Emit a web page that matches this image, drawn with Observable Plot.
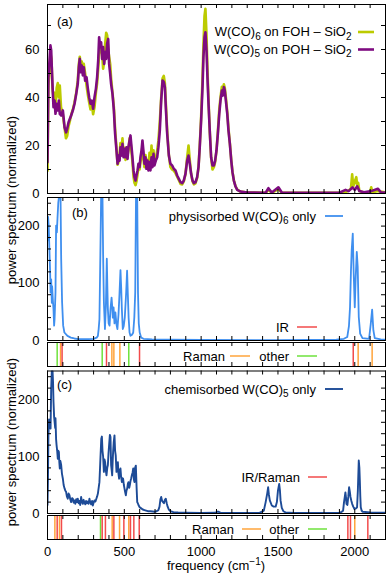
<!DOCTYPE html>
<html><head><meta charset="utf-8">
<script src="https://cdn.jsdelivr.net/npm/d3@7"></script>
<script src="https://cdn.jsdelivr.net/npm/@observablehq/plot@0.6"></script>
<style>
body{margin:0;background:#fff;}
#wrap{position:relative;width:390px;height:574px;font-family:"Liberation Sans",Arial,sans-serif;}
#wrap svg{position:absolute;left:0;top:0;}
#wrap svg text{font-family:"Liberation Sans",Arial,sans-serif;font-size:13px;fill:#000;}
</style></head><body><div id="wrap"></div>
<script>
// ---------- data (frequency cm^-1, normalized power) ----------
const pohSpectrum = [[0,13],[6,48.5],[13,55.4],[19,61.7],[24,59.6],[28,52.6],[35,41.5],[39,36],[46,38.7],[52,33.2],[59,37.4],[67,34.6],[74,38.7],[80,33.2],[89,32.5],[100,34.6],[111,27.6],[121,25.5],[128,27],[137,29.7],[145,31],[154,32.5],[165,34.6],[176,37.4],[187,41.5],[197,45.7],[204,52.6],[210,56.1],[217,50.5],[223,53.3],[230,49.2],[236,52.6],[245,47],[254,48.5],[263,43.6],[271,40.1],[280,37.4],[289,38.7],[297,35.3],[306,40.1],[315,43.6],[323,48.5],[330,55.4],[336,65.1],[343,61],[349,63],[356,56.1],[362,61],[369,54],[375,58.9],[382,56.1],[388,62.4],[395,64.4],[401,54],[408,49.9],[414,45.7],[423,41.5],[432,34.6],[440,24.9],[449,17.9],[456,12.4],[462,15.8],[469,13.7],[475,19.3],[482,15.8],[488,20.7],[495,15.1],[501,18.6],[508,15.1],[514,19.3],[521,14.4],[527,19.3],[534,22.1],[540,24.2],[547,19.3],[553,15.1],[560,9.6],[566,6.8],[573,5.4],[579,7.5],[586,9.6],[592,12.4],[599,11],[605,15.1],[612,17.9],[618,22.1],[625,17.2],[631,12.4],[638,15.1],[644,10.3],[651,13.7],[657,9.6],[664,13.1],[670,9.6],[677,15.1],[683,11],[690,16.5],[696,11.7],[705,13.7],[714,15.1],[722,19.3],[731,26.2],[740,38.7],[749,47.1],[757,46.4],[764,44.3],[770,36],[779,24.9],[790,15.8],[800,12.4],[811,11.7],[822,10.3],[833,9.6],[844,7.5],[855,6.1],[866,4.7],[877,4.3],[887,5.4],[898,8.2],[909,13.7],[918,15.8],[926,12.4],[935,8.2],[944,5.4],[953,4.3],[963,4.7],[974,6.8],[983,11],[991,19.3],[1000,30.4],[1009,44.3],[1015,56.8],[1022,65.1],[1028,67.2],[1035,59.6],[1041,48.5],[1048,37.4],[1057,24.9],[1065,15.1],[1074,11.7],[1083,11.7],[1091,13.7],[1100,17.9],[1109,24.9],[1118,33.2],[1126,38.7],[1135,42.9],[1141,40.8],[1148,44.3],[1154,42.9],[1161,38.7],[1170,33.2],[1178,26.2],[1187,20.7],[1196,13.7],[1204,8.9],[1213,5.4],[1224,2.9],[1235,1.5],[1256,0.8],[1300,0.4],[1420,0.3],[1438,2.2],[1460,0.4],[1503,2.6],[1525,0.4],[1900,0.3],[1940,1.5],[1960,1],[1985,2.5],[2000,1.5],[2016,3],[2030,1],[2060,0.5],[2107,1],[2150,2],[2170,0.5],[2200,0.4]];

const fohSpectrum = [[0,9.5],[6,45],[13,52],[20,58],[26,56],[32,44],[40,40],[46,42],[52,36],[60,44],[67,46],[74,40],[80,45],[88,36],[100,33],[110,28],[120,23],[128,24],[137,28],[145,30],[155,33],[165,35],[176,38],[187,42],[197,47],[204,54],[210,57],[217,53],[223,55],[230,51],[236,54],[245,50],[254,45],[263,41],[271,38],[280,35],[289,37],[297,33],[306,36],[315,42],[323,46],[330,52],[336,58],[343,62],[349,60],[356,58],[362,52],[369,55],[375,62],[382,67],[388,66],[395,60],[401,57],[408,54],[414,48],[423,42],[432,36],[440,27],[449,19],[456,12],[462,13],[469,16],[475,21],[482,18],[488,23],[495,16],[501,19],[508,14],[514,18],[521,16],[527,18],[534,23],[540,22],[547,17],[553,13],[560,7],[566,4.5],[573,3.5],[579,5],[586,8],[592,11],[599,10],[605,13],[612,16],[618,20],[625,14],[631,11],[638,16],[644,12],[651,14],[657,11],[664,17],[670,12],[677,20],[683,13],[690,18],[696,13],[705,14],[714,18],[722,22],[731,30],[740,40],[749,48],[757,49],[764,46],[770,38],[779,26],[790,16],[800,11],[811,10],[822,9.5],[833,8.5],[844,7],[855,5.5],[866,4],[877,3.8],[887,5],[898,8],[909,15],[918,20],[926,14],[935,8],[944,5],[953,3.8],[963,4.2],[974,6.5],[983,11],[991,20],[1000,32],[1009,48],[1015,62],[1022,74],[1028,77],[1035,66],[1041,52],[1048,39],[1057,25],[1065,15],[1074,10],[1083,11],[1091,13],[1100,18],[1109,26],[1118,35],[1126,40],[1135,44.5],[1141,43],[1148,45.5],[1154,44],[1161,40],[1170,34],[1178,27],[1187,21],[1196,14],[1204,9],[1213,5.5],[1224,3],[1235,1.6],[1256,0.8],[1300,0.4],[1420,0.3],[1438,1.5],[1460,0.3],[1503,1.8],[1525,0.3],[1900,0.3],[1950,0.8],[1975,2],[1983,8],[1990,3],[2000,5],[2010,6.8],[2016,3],[2022,4.5],[2030,1],[2060,0.4],[2100,0.6],[2107,2.6],[2115,0.5],[2150,1],[2200,0.4]];

const physiSpectrum = [[0,175],[4,216],[8,200],[13,154],[17,120],[20,84],[24,107],[28,66],[30,95],[35,70],[39,55],[43,26],[46,37],[52,84],[56,201],[61,189],[65,213],[70,240],[74,300],[80,300],[85,260],[89,143],[95,67],[102,26],[110,14],[130,8],[152,5],[175,3.5],[200,2.5],[250,2.2],[300,3],[320,5],[328,8],[333,20],[338,37],[344,150],[349,300],[358,300],[362,150],[367,67],[374,20],[380,60],[386,143],[390,90],[393,55],[398,30],[404,26],[410,55],[417,75],[421,60],[425,40],[430,58],[436,30],[442,49],[449,28],[455,20],[462,45],[468,78],[475,123],[480,90],[484,55],[490,20],[496,25],[503,40],[512,84],[518,122],[523,80],[528,40],[534,14],[540,8.2],[550,10],[558,14],[565,40],[571,84],[576,300],[584,300],[589,84],[594,30],[600,14],[610,5],[625,3],[680,2],[800,1.5],[1000,1],[1500,0.5],[1880,1.5],[1929,3],[1951,6],[1962,25],[1969,58],[1975,120],[1980,158],[1987,187],[1993,117],[2000,58],[2006,110],[2013,155],[2019,129],[2026,41],[2035,12],[2050,4],[2093,3],[2104,29],[2113,54],[2121,18],[2130,4],[2169,2],[2200,1.5]];

const chemiSpectrum = [[0,15],[3,60],[6,137],[10,165],[13,161],[17,150],[20,149],[24,219],[28,260],[33,250],[36,231],[39,196],[43,170],[46,161],[50,150],[52,167],[56,130],[59,120],[63,110],[67,96],[70,110],[74,108],[77,90],[80,79],[84,92],[89,85],[94,70],[100,61],[105,50],[111,44],[116,40],[121,38],[126,30],[132,26],[137,35],[143,32],[148,25],[154,20],[160,27],[165,26],[170,19],[176,23],[181,17],[187,25],[192,20],[197,26],[203,18],[208,22],[213,15],[219,29],[224,20],[230,17],[235,24],[240,19],[246,16],[251,22],[256,18],[262,21],[267,17],[273,26],[278,20],[284,16],[290,22],[295,14],[300,19],[306,23],[312,21],[318,26],[323,30],[328,35],[333,45],[338,55],[342,80],[345,100],[350,131],[354,135],[358,110],[362,100],[367,73],[371,95],[375,90],[380,75],[384,67],[389,80],[393,85],[397,105],[401,120],[406,138],[410,134],[414,85],[418,75],[421,67],[424,90],[427,108],[431,125],[436,137],[440,110],[444,102],[449,73],[453,85],[458,90],[462,70],[466,61],[470,75],[475,79],[479,65],[484,55],[488,62],[492,61],[497,50],[501,44],[505,38],[510,32],[514,40],[519,44],[523,52],[527,55],[532,45],[536,50],[541,58],[545,62],[549,67],[554,72],[558,79],[562,60],[566,55],[570,80],[575,84],[580,45],[584,20],[588,18],[592,15],[600,11],[610,9],[620,7],[631,6],[642,5],[653,4],[670,4],[685,3.5],[696,3],[710,4],[722,6],[729,12],[735,25],[740,29],[746,22],[752,20],[758,18],[764,24],[770,26],[776,18],[782,12],[790,7],[800,4],[820,2.5],[850,2],[900,1.5],[1000,1],[1090,1.2],[1105,3],[1114,3],[1125,1.5],[1200,1],[1300,0.8],[1380,1],[1408,5],[1420,20],[1430,35],[1436,46],[1441,33],[1447,23],[1460,14],[1472,12],[1485,12],[1493,20],[1500,40],[1508,52],[1513,40],[1517,23],[1525,10],[1535,4],[1549,2],[1600,1],[1800,0.8],[1900,1],[1915,3],[1924,5],[1930,20],[1935,29],[1939,37],[1943,28],[1946,17],[1952,15],[1958,30],[1963,46],[1968,38],[1972,29],[1978,22],[1983,17],[1990,12],[1998,8],[2008,9],[2015,11],[2020,40],[2026,93],[2030,80],[2033,58],[2036,30],[2039,11],[2045,5],[2050,3],[2100,2],[2200,1.5]];

const physiModes = [[63,"other"],[85,"Raman"],[95,"IR"],[356,"other"],[384,"IR"],[419,"Raman"],[432,"Raman"],[471,"Raman"],[529,"other"],[599,"IR"],[1990,"IR"],[2022,"Raman"],[2113,"Raman"]];
const chemiModes = [[48,"Raman"],[63,"IR/Raman"],[78,"Raman"],[91,"IR/Raman"],[345,"other"],[356,"IR/Raman"],[377,"IR/Raman"],[421,"Raman"],[432,"IR/Raman"],[469,"Raman"],[497,"IR/Raman"],[529,"Raman"],[540,"IR/Raman"],[562,"IR/Raman"],[597,"IR/Raman"],[1955,"IR/Raman"],[1972,"IR/Raman"],[2000,"Raman"],[2085,"IR/Raman"]];

const xTicks = d3.range(0, 2201, 100);
const xTickLabels = [0, 500, 1000, 1500, 2000];
const yTicksA = d3.range(0, 71, 10), yLabelsA = [0, 20, 40, 60];
const yTicksBC = d3.range(0, 241, 20), yLabelsBC = [0, 100, 200];

// ---------- styling ----------
const C = {foh:"#bccb00", poh:"#7e0b80", physi:"#3f8fef", chemi:"#1d4b97", red:"#f24b4b", orange:"#ffa43b", green:"#6ee23c"};
const W = 390, H = 574, L = 47, R = 385, TL = 4;
const wrap = document.getElementById("wrap");
const plain = d => String(d);

function panel({top, bottom, y, marks, yTicks, xAxis=false, color}) {
  const fh = bottom - top, fw = R - L;
  const tickMarks = [
    Plot.tickX(xTicks, {x: d => d, insetTop: fh - TL, stroke: "#000"}),
    Plot.tickX(xTicks, {x: d => d, insetBottom: fh - TL, stroke: "#000"})
  ];
  if (yTicks) tickMarks.push(
    Plot.tickY(yTicks, {y: d => d, insetRight: fw - TL, stroke: "#000"}),
    Plot.tickY(yTicks, {y: d => d, insetLeft: fw - TL, stroke: "#000"})
  );
  const opts = {
    width: W, height: H,
    marginLeft: L, marginRight: W - R, marginTop: top, marginBottom: H - bottom,
    style: {background: "transparent", color: "#000", fontFamily: "Liberation Sans, Arial, sans-serif", fontSize: "13px"},
    x: xAxis ? {domain: [0, 2200], ticks: xTickLabels, tickFormat: plain, tickSize: 0, tickPadding: 7, label: null}
             : {domain: [0, 2200], axis: null},
    y: y,
    marks: [...marks, ...tickMarks, Plot.frame({stroke: "#000", strokeWidth: 1})]
  };
  if (color) opts.color = color;
  const el = Plot.plot(opts);
  wrap.appendChild(el);
}

const line = (data, stroke, w) => Plot.line(data, {x: d => d[0], y: d => d[1], stroke, strokeWidth: w, clip: true, strokeLinejoin: "round"});

// (a)
panel({top: 4, bottom: 193, yTicks: yTicksA,
  y: {domain: [0, 78.75], ticks: yLabelsA, tickFormat: plain, tickSize: 0, tickPadding: 8, label: null},
  marks: [line(fohSpectrum, C.foh, 2.6), line(pohSpectrum, C.poh, 2.6)]});
// (b)
panel({top: 197, bottom: 340, yTicks: yTicksBC,
  y: {domain: [0, 250], clamp: true, ticks: yLabelsBC, tickFormat: plain, tickSize: 0, tickPadding: 8, label: null},
  marks: [line(physiSpectrum, C.physi, 1.8)]});
// strip b
panel({top: 342, bottom: 366, y: {domain: [0, 1], axis: null},
  color: {domain: ["IR", "Raman", "other"], range: [C.red, C.orange, C.green]},
  marks: [Plot.ruleX(physiModes, {x: d => d[0], stroke: d => d[1], strokeWidth: 1.5})]});
// (c)
panel({top: 370.5, bottom: 513, yTicks: yTicksBC,
  y: {domain: [0, 250], clamp: true, ticks: yLabelsBC, tickFormat: plain, tickSize: 0, tickPadding: 8, label: null},
  marks: [line(chemiSpectrum, C.chemi, 1.9)]});
// strip c
panel({top: 515, bottom: 539, y: {domain: [0, 1], axis: null}, xAxis: true,
  color: {domain: ["IR/Raman", "Raman", "other"], range: [C.red, C.orange, C.green]},
  marks: [Plot.ruleX(chemiModes, {x: d => d[0], stroke: d => d[1], strokeWidth: 1.5})]});

// ---------- annotations: labels and legends ----------
const ov = d3.select(wrap).append("svg").attr("width", W).attr("height", H);
function rich(x, y, parts, anchor = "start", transform = null) {
  const t = ov.append("text").attr("x", x).attr("y", y).attr("text-anchor", anchor);
  if (transform) t.attr("transform", transform);
  let shift = 0;
  for (const [s, k] of parts) {
    const ts = t.append("tspan").text(s);
    const target = k === "sub" ? 3.5 : k === "sup" ? -5 : 0;
    if (target !== shift) { ts.attr("dy", target - shift); shift = target; }
    if (k) ts.style("font-size", "10px");
  }
  return t;
}
function sample(x1, x2, y, color, w) {
  ov.append("line").attr("x1", x1).attr("x2", x2).attr("y1", y).attr("y2", y)
    .attr("stroke", color).attr("stroke-width", w);
}
// panel tags
rich(57, 26, [["(a)"]]);
rich(72, 217, [["(b)"]]);
rich(57, 389, [["(c)"]]);
// legend (a)
rich(351.5, 36, [["W(CO)"], ["6", "sub"], [" on FOH – SiO"], ["2", "sub"]], "end");
sample(358, 374, 32, C.foh, 2.6);
rich(351.5, 53.5, [["W(CO)"], ["5", "sub"], [" on POH – SiO"], ["2", "sub"]], "end");
sample(358, 374, 49.5, C.poh, 2.6);
// legend (b)
rich(316, 220.5, [["physisorbed W(CO)"], ["6", "sub"], [" only"]], "end");
sample(325, 343, 216, C.physi, 1.8);
rich(289, 331.5, [["IR"]], "end");
sample(297, 317, 327, C.red, 1.5);
rich(225, 360.5, [["Raman"]], "end");
sample(230, 250, 356, C.orange, 1.5);
rich(289, 360.5, [["other"]], "end");
sample(297, 317, 356, C.green, 1.5);
// legend (c)
rich(316, 393.5, [["chemisorbed W(CO)"], ["5", "sub"], [" only"]], "end");
sample(325, 343, 389, C.chemi, 1.9);
rich(300, 481.5, [["IR/Raman"]], "end");
sample(308, 327, 477, C.red, 1.5);
rich(234, 533.5, [["Raman"]], "end");
sample(242, 261, 529, C.orange, 1.5);
rich(299, 533.5, [["other"]], "end");
sample(308, 327, 529, C.green, 1.5);
// axis titles
rich(216, 569.5, [["frequency (cm"], ["−1", "sup"], [")"]], "middle");
rich(0, 0, [["power spectrum (normalized)"]], "middle", "translate(15.5,200) rotate(-90)");
rich(0, 0, [["power spectrum (normalized)"]], "middle", "translate(15.5,442) rotate(-90)");
</script></body></html>
